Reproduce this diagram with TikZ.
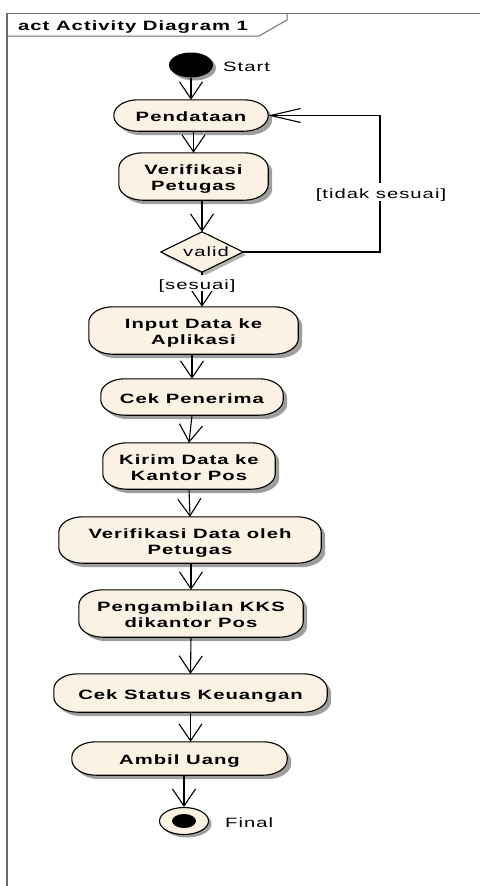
\documentclass[tikz,border=0pt]{standalone}
\usepackage{fontspec}
\usepackage{graphicx}
\usetikzlibrary{arrows.meta,calc,shapes.geometric}
\newfontfamily\umlbold[LetterSpace=5]{Liberation Sans}
\newfontfamily\umlreg[LetterSpace=5]{Liberation Sans}
\definecolor{actfill}{RGB}{252,242,228}
\definecolor{framegray}{RGB}{110,110,110}
\pgfdeclarelayer{bg}
\pgfsetlayers{bg,main}
% widened, slightly lowered text block (lines separated by \\)
\newcommand\wt[1]{\raisebox{-3pt}[\height][\depth]{\scalebox{1.5}[1]{\begin{tabular}{@{}c@{}}#1\end{tabular}}}}
% action outline with elliptical corners plus its drop shadow
\newcommand\actoutline[1]{%
  \foreach \dx/\dy/\sty in {4/-4/shadowsty, 0/0/boxsty}{%
    \path[\sty] let \p1=($(#1.north west)+(\dx pt,\dy pt)$), \p2=($(#1.south east)+(\dx pt,\dy pt)$) in
      (\x1+24pt,\y1) -- (\x2-24pt,\y1)
      arc[start angle=90,end angle=0,x radius=24pt,y radius=15.5pt]
      -- (\x2,\y2+15.5pt)
      arc[start angle=0,end angle=-90,x radius=24pt,y radius=15.5pt]
      -- (\x1+24pt,\y2)
      arc[start angle=270,end angle=180,x radius=24pt,y radius=15.5pt]
      -- (\x1,\y1-15.5pt)
      arc[start angle=180,end angle=90,x radius=24pt,y radius=15.5pt]
      -- cycle;
  }%
}
\begin{document}
\begin{tikzpicture}[x=1pt,y=1pt,
  act/.style={rectangle, inner sep=0pt, font={\umlbold\bfseries\fontsize{13.5}{16}\selectfont}},
  lbl/.style={inner sep=1pt, font={\umlreg\fontsize{13.5}{16}\selectfont}},
  flow/.style={line width=1.1pt, -{Straight Barb[length=17pt,width=23pt,line width=1.1pt]}},
  flowh/.style={line width=1.1pt, -{Straight Barb[length=30pt,width=14pt,line width=1.1pt]}},
  shadowsty/.style={fill=black!38},
  boxsty/.style={fill=actfill, draw=black, line width=1.1pt},
]
\useasboundingbox (0,0) rectangle (480,-886);

% diagram frame and name tab
\draw[framegray, line width=1pt] (7,-13) -- (480,-13);
\draw[framegray, line width=1.6pt] (7,-13) -- (7,-886);
\draw[framegray, line width=1pt] (7,-36) -- (259,-36) -- (287,-20) -- (287,-13);
\node[anchor=base west, inner sep=0pt, font={\umlbold\bfseries\fontsize{13.5}{16}\selectfont}] (title) at (18,-30) {\scalebox{1.5}[1]{act Activity Diagram 1}};

% initial node
\node[ellipse, minimum width=44pt, minimum height=25pt, inner sep=0pt, fill=black] (start) at (191,-65) {};
\node[lbl, anchor=west] (startlbl) at (222,-65) {\wt{Start}};

% actions
\node[act, minimum width=154pt, minimum height=31pt] (pend)  at (191,-115.5)   {\wt{Pendataan}};
\node[act, minimum width=149pt, minimum height=47pt] (ver)   at (193.5,-176.5) {\wt{Verifikasi\\Petugas}};
\node[inner sep=0pt, minimum width=82pt, minimum height=40pt] (dec) at (202,-252) {};
\node[lbl] (validtxt) at (206,-250) {\wt{valid}};
\node[act, minimum width=209pt, minimum height=47pt] (inp)   at (193.5,-330.5) {\wt{Input Data ke\\Aplikasi}};
\node[act, minimum width=182pt, minimum height=36pt] (cek)   at (192,-397)     {\wt{Cek Penerima}};
\node[act, minimum width=172pt, minimum height=46pt] (kirim) at (189,-466)     {\wt{Kirim Data ke\\Kantor Pos}};
\node[act, minimum width=262pt, minimum height=46pt] (verd)  at (190,-540)     {\wt{Verifikasi Data oleh\\Petugas}};
\node[act, minimum width=224pt, minimum height=47pt] (peng)  at (191,-613.5)   {\wt{Pengambilan KKS\\dikantor Pos}};
\node[act, minimum width=273pt, minimum height=38pt] (cekst) at (190.5,-693)   {\wt{Cek Status Keuangan}};
\node[act, minimum width=215pt, minimum height=33pt] (ambil) at (179.5,-758.5) {\wt{Ambil Uang}};

% final node
\node[ellipse, minimum width=49pt, minimum height=27pt, inner sep=0pt, fill=actfill, draw=black, line width=1.1pt] (final) at (184,-821) {};
\fill[black] (final.center) ellipse [x radius=12pt, y radius=7pt];
\node[lbl, anchor=west] (finallbl) at (224,-821) {\wt{Final}};

% shapes behind the texts
\begin{pgfonlayer}{bg}
  \fill[white] (0,0) rectangle (480,-886);
  \fill[black!38] ($(start.center)+(3pt,-3pt)$) ellipse [x radius=22pt, y radius=12.5pt];
  \fill[black!38] ($(final.center)+(3pt,-3pt)$) ellipse [x radius=24.5pt, y radius=13.5pt];
  \fill[black!30] ($(dec.north)+(3pt,-3pt)$) -- ($(dec.east)+(3pt,-3pt)$) -- ($(dec.south)+(3pt,-3pt)$) -- ($(dec.west)+(3pt,-3pt)$) -- cycle;
  \filldraw[boxsty] (dec.north) -- (dec.east) -- (dec.south) -- (dec.west) -- cycle;
  \actoutline{pend}
  \actoutline{ver}
  \actoutline{inp}
  \actoutline{cek}
  \actoutline{kirim}
  \actoutline{verd}
  \actoutline{peng}
  \actoutline{cekst}
  \actoutline{ambil}
\end{pgfonlayer}

% control flows
\coordinate (loopc) at (380,-190);
\draw[flow] (start.south) -- (pend.north);
\draw[flow] (ver.north |- pend.south) -- (ver.north);
\draw[flow] (ver.south -| dec.north) -- (dec.north);
\draw[flowh] (dec.east) -| (loopc) |- (pend.east);
\draw[flow] (dec.south) -- (dec.south |- inp.north);
\draw[flow] (cek.north |- inp.south) -- (cek.north);
\draw[flow] (cek.south) -- (kirim.north);
\draw[flow] (kirim.south) -- (verd.north);
\draw[flow] (peng.north |- verd.south) -- (peng.north);
\draw[flow] (peng.south) -- (cekst.north);
\draw[flow] (cekst.south) -- (cekst.south |- ambil.north);
\draw[flow] (final.north |- ambil.south) -- (final.north);

% guards
\node[lbl, fill=white] (g1) at (381,-192) {\wt{[tidak sesuai]}};
\node[lbl, fill=white, inner sep=0pt] (g2) at (197,-283) {\wt{[sesuai]}};
\end{tikzpicture}
\end{document}
